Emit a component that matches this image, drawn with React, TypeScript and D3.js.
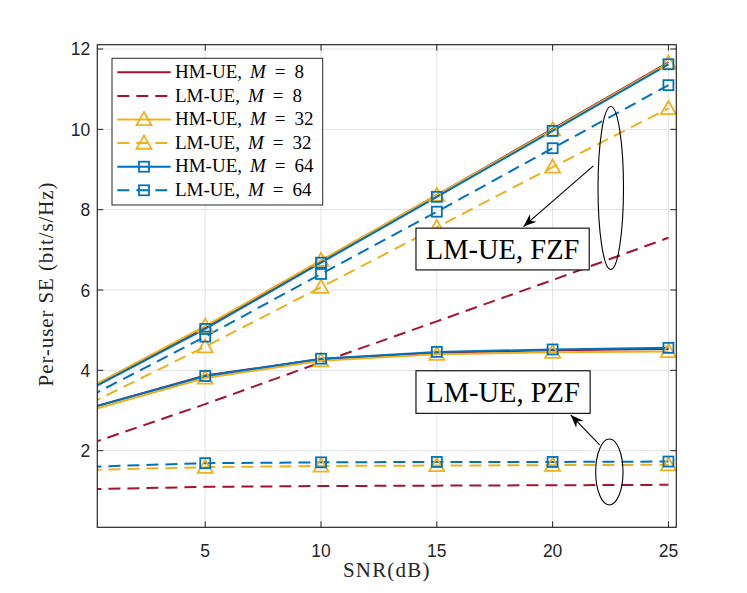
import * as d3 from 'd3';

// SNR points (dB)
const snr = [0, 5, 10, 15, 20, 25];

// FZF scheme
const fzfHM8 = [3.55, 5.07, 6.72, 8.36, 10.01, 11.67];
const fzfHM32 = [3.57, 5.1, 6.74, 8.36, 9.99, 11.65];
const fzfHM64 = [3.52, 5.03, 6.68, 8.32, 9.96, 11.62];
const fzfLM8 = [2.17, 3.16, 4.2, 5.22, 6.25, 7.3];
const fzfLM32 = [3.17, 4.59, 6.07, 7.56, 9.06, 10.52];
const fzfLM64 = [3.35, 4.84, 6.4, 7.95, 9.53, 11.1];

// PZF scheme
const pzfHM8 = [3.06, 3.87, 4.28, 4.44, 4.5, 4.53];
const pzfHM32 = [3.0, 3.81, 4.24, 4.4, 4.45, 4.47];
const pzfHM64 = [3.06, 3.86, 4.29, 4.46, 4.52, 4.56];
const pzfLM8 = [1.04, 1.1, 1.12, 1.13, 1.14, 1.15];
const pzfLM32 = [1.52, 1.59, 1.62, 1.63, 1.64, 1.65];
const pzfLM64 = [1.6, 1.69, 1.71, 1.72, 1.72, 1.73];

const xTicks = [5, 10, 15, 20, 25];
const yTicks = [2, 4, 6, 8, 10, 12];

const RED = '#A2142F';
const YEL = '#EDB120';
const BLU = '#0072BD';

type Marker = 'none' | 'tri' | 'sq';

interface Series {
  values: number[];
  color: string;
  dashed: boolean;
  marker: Marker;
}

const series: Series[] = [
  { values: fzfHM8, color: RED, dashed: false, marker: 'none' },
  { values: fzfLM8, color: RED, dashed: true, marker: 'none' },
  { values: pzfHM8, color: RED, dashed: false, marker: 'none' },
  { values: pzfLM8, color: RED, dashed: true, marker: 'none' },
  { values: fzfHM32, color: YEL, dashed: false, marker: 'tri' },
  { values: fzfLM32, color: YEL, dashed: true, marker: 'tri' },
  { values: pzfHM32, color: YEL, dashed: false, marker: 'tri' },
  { values: pzfLM32, color: YEL, dashed: true, marker: 'tri' },
  { values: fzfHM64, color: BLU, dashed: false, marker: 'sq' },
  { values: fzfLM64, color: BLU, dashed: true, marker: 'sq' },
  { values: pzfHM64, color: BLU, dashed: false, marker: 'sq' },
  { values: pzfLM64, color: BLU, dashed: true, marker: 'sq' },
];

const legendItems = [
  { label: 'HM-UE,', m: '8', color: RED, dashed: false, marker: 'none' as Marker },
  { label: 'LM-UE,', m: '8', color: RED, dashed: true, marker: 'none' as Marker },
  { label: 'HM-UE,', m: '32', color: YEL, dashed: false, marker: 'tri' as Marker },
  { label: 'LM-UE,', m: '32', color: YEL, dashed: true, marker: 'tri' as Marker },
  { label: 'HM-UE,', m: '64', color: BLU, dashed: false, marker: 'sq' as Marker },
  { label: 'LM-UE,', m: '64', color: BLU, dashed: true, marker: 'sq' as Marker },
];

// annotations, in data units
const notes = [
  {
    text: 'LM-UE, FZF',
    box: [14.1, 21.58, 6.5, 7.54],
    arrow: [21.76, 9.09, 18.74, 7.58],
    ellipse: [22.51, 8.54, 0.55, 2.03],
  },
  {
    text: 'LM-UE, PZF',
    box: [14.1, 21.62, 2.93, 3.99],
    arrow: [22.03, 2.145, 20.78, 2.89],
    ellipse: [22.45, 1.47, 0.59, 0.82],
  },
];

const W = 747;
const H = 593;
const margin = { left: 97.3, right: 70.7, top: 44.7, bottom: 65.7 };
const SERIF = '"Liberation Serif", "Times New Roman", serif';
const SANS = '"Liberation Sans", Arial, sans-serif';

const MarkerShape = ({ type, x, y, color }: { type: Marker; x: number; y: number; color: string }) => {
  if (type === 'tri') {
    const s = 7.5;
    return (
      <path
        d={`M${x},${y - s}L${x + s},${y + s * 0.75}L${x - s},${y + s * 0.75}Z`}
        fill="none"
        stroke={color}
        strokeWidth={1.8}
      />
    );
  }
  if (type === 'sq') {
    const s = 5;
    return <rect x={x - s} y={y - s} width={2 * s} height={2 * s} fill="none" stroke={color} strokeWidth={1.8} />;
  }
  return null;
};

export default function App() {
  const x = d3.scaleLinear().domain([0.34, 25.34]).range([margin.left, W - margin.right]);
  const y = d3.scaleLinear().domain([0.093, 12.107]).range([H - margin.bottom, margin.top]);
  const x0 = margin.left;
  const x1 = W - margin.right;
  const y0 = H - margin.bottom;
  const y1 = margin.top;

  const line = d3
    .line<number>()
    .x((_, i) => x(snr[i]))
    .y((d) => y(d));

  const arrowHead = (ax: number, ay: number, bx: number, by: number) => {
    const ang = Math.atan2(by - ay, bx - ax);
    const len = 13;
    const half = 5;
    const back = 9;
    const p = (l: number, w: number) => [
      bx - l * Math.cos(ang) - w * Math.sin(ang),
      by - l * Math.sin(ang) + w * Math.cos(ang),
    ];
    const a = p(len, half);
    const c = p(back, 0);
    const b = p(len, -half);
    return `M${bx},${by}L${a[0]},${a[1]}L${c[0]},${c[1]}L${b[0]},${b[1]}Z`;
  };

  const lgX = 112;
  const lgY = 58.3;
  const lgW = 210.7;
  const lgH = 146.7;
  const rowH = 23.6;

  return (
    <svg width={W} height={H} style={{ position: 'absolute', left: 0, top: 0, background: '#fff' }}>
      <defs>
        <clipPath id="plot">
          <rect x={x0} y={y1} width={x1 - x0} height={y0 - y1} />
        </clipPath>
      </defs>
      <rect x={x0} y={y1} width={x1 - x0} height={y0 - y1} fill="#fff" />
      {/* grid */}
      {xTicks.map((t) => (
        <line key={'gx' + t} x1={x(t)} x2={x(t)} y1={y0} y2={y1} stroke="#e3e3e3" strokeWidth={1} />
      ))}
      {yTicks.map((t) => (
        <line key={'gy' + t} x1={x0} x2={x1} y1={y(t)} y2={y(t)} stroke="#e3e3e3" strokeWidth={1} />
      ))}
      {/* curves */}
      <g clipPath="url(#plot)">
        {series.map((s, i) => (
          <path
            key={'s' + i}
            d={line(s.values) || ''}
            fill="none"
            stroke={s.color}
            strokeWidth={2}
            strokeDasharray={s.dashed ? '12,7' : undefined}
          />
        ))}
      </g>
      {series.map((s, i) =>
        s.values.map((v, j) =>
          snr[j] >= 0.34 ? <MarkerShape key={`m${i}-${j}`} type={s.marker} x={x(snr[j])} y={y(v)} color={s.color} /> : null
        )
      )}
      {/* axes box and ticks */}
      <rect x={x0} y={y1} width={x1 - x0} height={y0 - y1} fill="none" stroke="#262626" strokeWidth={1.2} />
      {xTicks.map((t) => (
        <g key={'tx' + t}>
          <line x1={x(t)} x2={x(t)} y1={y0} y2={y0 - 6} stroke="#262626" strokeWidth={1} />
          <line x1={x(t)} x2={x(t)} y1={y1} y2={y1 + 6} stroke="#262626" strokeWidth={1} />
          <text x={x(t)} y={y0 + 30} textAnchor="middle" fontFamily={SANS} fontSize={17.5} fill="#262626">
            {t}
          </text>
        </g>
      ))}
      {yTicks.map((t) => (
        <g key={'ty' + t}>
          <line x1={x0} x2={x0 + 6} y1={y(t)} y2={y(t)} stroke="#262626" strokeWidth={1} />
          <line x1={x1} x2={x1 - 6} y1={y(t)} y2={y(t)} stroke="#262626" strokeWidth={1} />
          <text x={x0 - 7} y={y(t) + 6.5} textAnchor="end" fontFamily={SANS} fontSize={17.5} fill="#262626">
            {t}
          </text>
        </g>
      ))}
      {/* axis labels */}
      <text
        x={(x0 + x1) / 2}
        y={577}
        textAnchor="middle"
        fontFamily={SERIF}
        fontSize={21}
        letterSpacing={1.2}
        fill="#262626"
      >
        SNR(dB)
      </text>
      <text
        transform={`translate(53,${(y0 + y1) / 2 - 2}) rotate(-90)`}
        textAnchor="middle"
        fontFamily={SERIF}
        fontSize={21}
        letterSpacing={0.9}
        fill="#262626"
      >
        Per-user SE (bit/s/Hz)
      </text>
      {/* annotations */}
      {notes.map((n, i) => {
        const [bx0, bx1, by0, by1] = n.box;
        const [ax, ay, tx, ty] = n.arrow;
        const [ex, ey, erx, ery] = n.ellipse;
        const left = x(bx0);
        const right = x(bx1);
        const top = y(by1);
        const bottom = y(by0);
        return (
          <g key={'n' + i}>
            <ellipse
              cx={x(ex)}
              cy={y(ey)}
              rx={x(ex + erx) - x(ex)}
              ry={y(ey - ery) - y(ey)}
              fill="none"
              stroke="#000"
              strokeWidth={1.1}
            />
            <line x1={x(ax)} y1={y(ay)} x2={x(tx)} y2={y(ty)} stroke="#000" strokeWidth={1.1} />
            <path d={arrowHead(x(ax), y(ay), x(tx), y(ty))} fill="#000" />
            <rect x={left} y={top} width={right - left} height={bottom - top} fill="#fff" stroke="#000" strokeWidth={1.1} />
            <text
              x={(left + right) / 2}
              y={(top + bottom) / 2 + 10}
              textAnchor="middle"
              fontFamily={SERIF}
              fontSize={28.5}
              fill="#000"
            >
              {n.text}
            </text>
          </g>
        );
      })}
      {/* legend */}
      <rect x={lgX} y={lgY} width={lgW} height={lgH} fill="#fff" stroke="#262626" strokeWidth={1} />
      {legendItems.map((it, i) => {
        const cy = lgY + 14 + i * rowH;
        return (
          <g key={'lg' + i}>
            <line
              x1={117.3}
              x2={170.7}
              y1={cy}
              y2={cy}
              stroke={it.color}
              strokeWidth={2}
              strokeDasharray={it.dashed ? '12,7' : undefined}
            />
            <MarkerShape type={it.marker} x={144} y={cy} color={it.color} />
            <text x={175} y={cy + 5.6} fontFamily={SERIF} fontSize={19} fill="#000">
              {it.label}
              <tspan dx={8} fontStyle="italic">
                M
              </tspan>
              <tspan dx={9}>=</tspan>
              <tspan dx={9}>{it.m}</tspan>
            </text>
          </g>
        );
      })}
    </svg>
  );
}
